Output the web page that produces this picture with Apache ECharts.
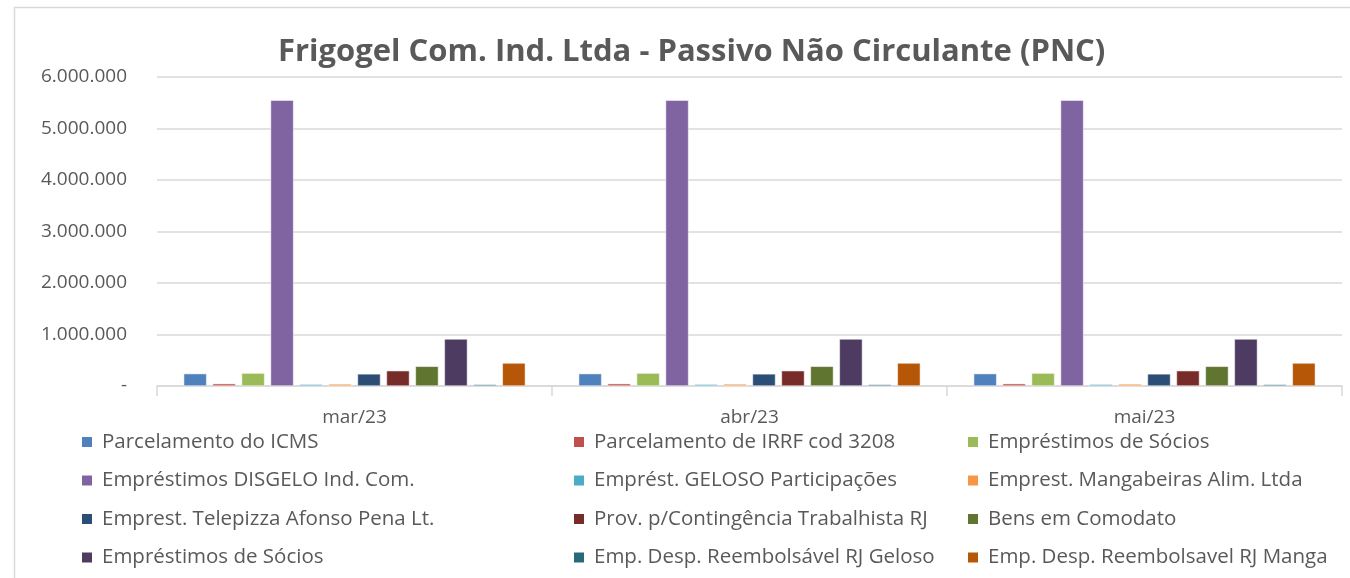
<!DOCTYPE html>
<html>
<head>
<meta charset="utf-8">
<script src="https://cdn.jsdelivr.net/npm/echarts@6/dist/echarts.min.js"></script>
<style>
  html, body { margin: 0; padding: 0; background: #fff; }
  #chart { width: 1350px; height: 578px; }
</style>
</head>
<body>
<div id="chart"></div>
<script>
// meses
var months = ['mar/23', 'abr/23', 'mai/23']

// valores por conta (R$)
var parcelamentoICMS = [240000, 240000, 240000]
var parcelamentoIRRF = [45000, 45000, 45000]
var emprestimosSocios1 = [250000, 250000, 250000]
var emprestimosDisgelo = [5550000, 5550000, 5550000]
var emprestGeloso = [35000, 35000, 35000]
var emprestMangabeiras = [40000, 40000, 40000]
var emprestTelepizza = [235000, 235000, 235000]
var provContingencia = [297000, 297000, 297000]
var bensComodato = [382000, 382000, 382000]
var emprestimosSocios2 = [912000, 912000, 912000]
var empDespGeloso = [30000, 30000, 30000]
var empDespManga = [446000, 446000, 446000]

var yTicks = [0, 1000000, 2000000, 3000000, 4000000, 5000000, 6000000]

var seriesNames = [
  'Parcelamento do ICMS',
  'Parcelamento de IRRF cod 3208',
  'Empréstimos de Sócios',
  'Empréstimos DISGELO Ind. Com.',
  'Emprést. GELOSO Participações',
  'Emprest. Mangabeiras Alim. Ltda',
  'Emprest. Telepizza Afonso Pena Lt.',
  'Prov. p/Contingência Trabalhista RJ',
  'Bens em Comodato',
  'Empréstimos de Sócios\u200b',
  'Emp. Desp. Reembolsável RJ Geloso',
  'Emp. Desp. Reembolsavel RJ Manga'
]

var seriesData = [
  parcelamentoICMS, parcelamentoIRRF, emprestimosSocios1,
  emprestimosDisgelo, emprestGeloso, emprestMangabeiras,
  emprestTelepizza, provContingencia, bensComodato,
  emprestimosSocios2, empDespGeloso, empDespManga
]

var colors = ['#4F81BD', '#C0504D', '#9BBB59', '#8064A2', '#4BACC6', '#F79646',
  '#2C4D75', '#772C2A', '#5F7530', '#4D3B62', '#276A7C', '#B65708']

var font = "'Open Sans', sans-serif"

function fmt(v) {
  if (v === 0) return '-'
  return String(v).replace(/\B(?=(\d{3})+(?!\d))/g, '.')
}

var obj = {

  chart: null,

  buildSeries: function () {
    var list = []
    for (var i = 0; i < seriesNames.length; i++) {
      list.push({
        name: seriesNames[i],
        type: 'bar',
        data: seriesData[i],
        barGap: '26%',
        barCategoryGap: '13.5%',
        itemStyle: {
          color: colors[i],
          borderColor: '#ffffff',
          borderWidth: 0.5
        }
      })
    }
    return list
  },

  //legenda em 3 colunas
  buildLegend: function () {
    var lefts = [80, 572, 966]
    var legends = []
    for (var c = 0; c < 3; c++) {
      var names = []
      for (var i = c; i < seriesNames.length; i += 3) names.push(seriesNames[i])
      legends.push({
        orient: 'vertical',
        left: lefts[c],
        top: 431,
        padding: 0,
        data: names,
        itemWidth: 12,
        itemHeight: 12,
        itemGap: 16.5,
        icon: 'rect',
        selectedMode: false,
        formatter: function (n) { return n.replace('\u200b', '') },
        textStyle: {
          fontFamily: font,
          fontSize: 20.5,
          lineHeight: 22,
          color: '#595959',
          padding: [0, 0, 0, 4]
        }
      })
    }
    return legends
  },

  init: function () {
    this.chart = echarts.init(document.getElementById('chart'))
    var option = {
      animation: false,
      color: colors,
      title: {
        text: 'Frigogel Com. Ind. Ltda - Passivo Não Circulante (PNC)',
        left: 273,
        top: 32,
        textStyle: {
          fontFamily: font,
          fontSize: 31,
          fontWeight: 'bold',
          color: '#595959'
        }
      },
      graphic: [{
        type: 'rect',
        left: 12,
        top: 5,
        shape: { width: 1345, height: 585 },
        style: { fill: 'none', stroke: '#d9d9d9', lineWidth: 1.5 },
        silent: true
      }],
      legend: this.buildLegend(),
      grid: {
        left: 157,
        right: 8,
        top: 77,
        bottom: 192
      },
      xAxis: {
        type: 'category',
        data: months,
        axisLine: { lineStyle: { color: '#d9d9d9', width: 1.5 } },
        axisTick: { show: true, length: 10, lineStyle: { color: '#d9d9d9', width: 1.5 } },
        axisLabel: {
          fontFamily: font,
          fontSize: 19,
          color: '#595959',
          margin: 22
        }
      },
      yAxis: {
        type: 'value',
        min: yTicks[0],
        max: yTicks[yTicks.length - 1],
        interval: 1000000,
        axisLine: { show: false },
        axisTick: { show: false },
        splitLine: { lineStyle: { color: '#d9d9d9', width: 1.5 } },
        axisLabel: {
          fontFamily: font,
          fontSize: 19,
          color: '#595959',
          margin: 30,
          formatter: fmt
        }
      },
      series: this.buildSeries()
    }
    this.chart.setOption(option, true)
  }
}

obj.init()
</script>
</body>
</html>
